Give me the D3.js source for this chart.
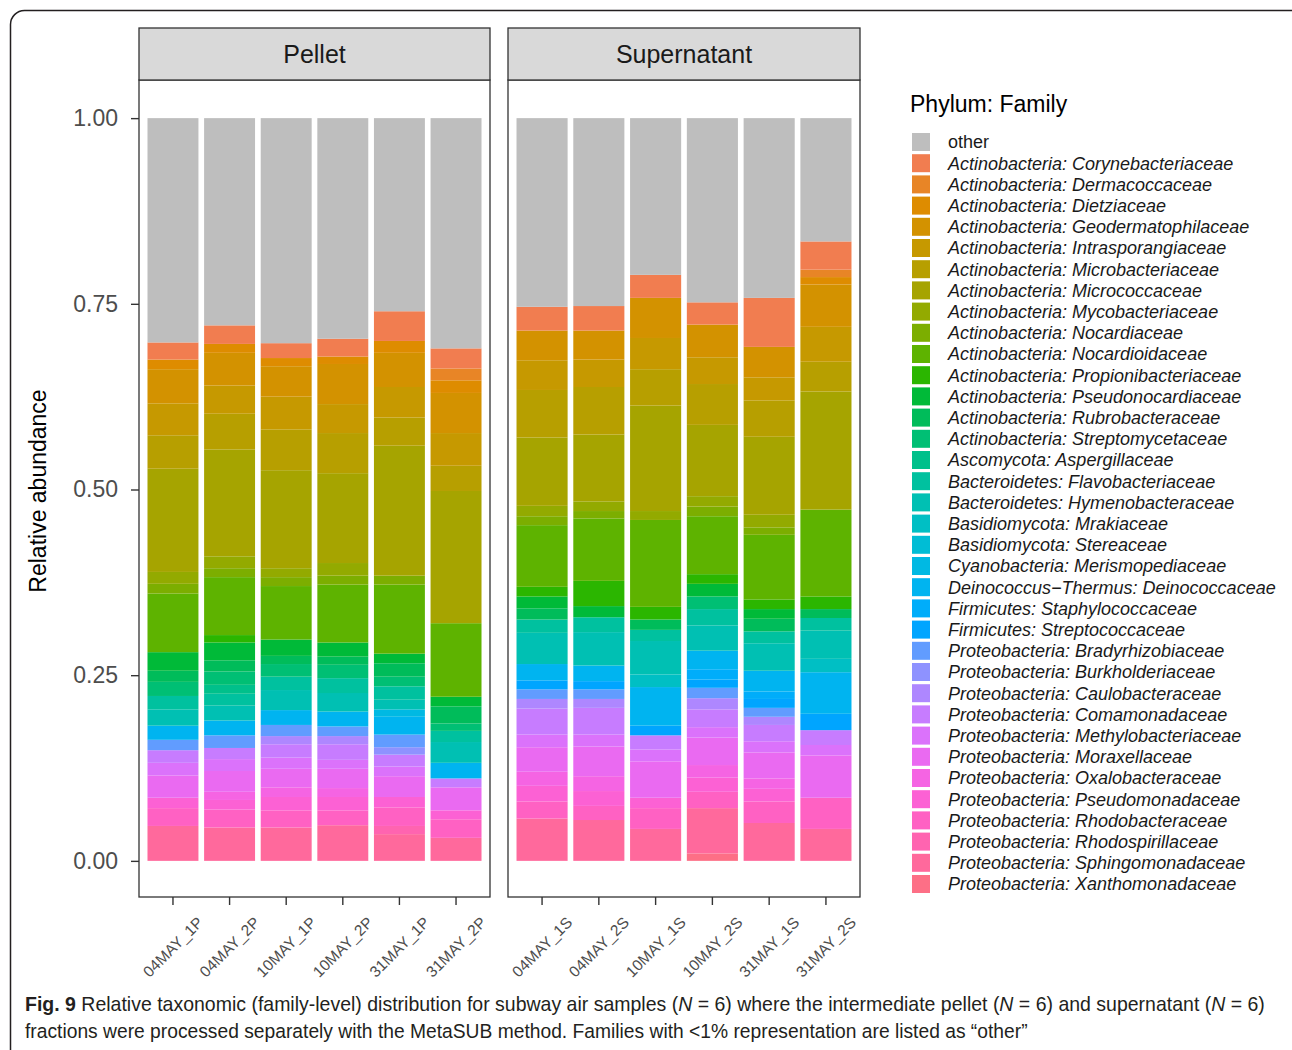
<!DOCTYPE html>
<html>
<head>
<meta charset="utf-8">
<script src="https://cdn.jsdelivr.net/npm/d3@7"></script>
<style>
  body { margin: 0; background: #ffffff; }
  svg { display: block; }
  text { font-family: "Liberation Sans", Arial, Helvetica, sans-serif; }
</style>
</head>
<body>
<svg id="chart" width="1292" height="1050"></svg>
<script>
// Fill levels, top of each stack first ("other" sits on top)
const families = [
  "other",
  "Actinobacteria: Corynebacteriaceae",
  "Actinobacteria: Dermacoccaceae",
  "Actinobacteria: Dietziaceae",
  "Actinobacteria: Geodermatophilaceae",
  "Actinobacteria: Intrasporangiaceae",
  "Actinobacteria: Microbacteriaceae",
  "Actinobacteria: Micrococcaceae",
  "Actinobacteria: Mycobacteriaceae",
  "Actinobacteria: Nocardiaceae",
  "Actinobacteria: Nocardioidaceae",
  "Actinobacteria: Propionibacteriaceae",
  "Actinobacteria: Pseudonocardiaceae",
  "Actinobacteria: Rubrobacteraceae",
  "Actinobacteria: Streptomycetaceae",
  "Ascomycota: Aspergillaceae",
  "Bacteroidetes: Flavobacteriaceae",
  "Bacteroidetes: Hymenobacteraceae",
  "Basidiomycota: Mrakiaceae",
  "Basidiomycota: Stereaceae",
  "Cyanobacteria: Merismopediaceae",
  "Deinococcus\u2212Thermus: Deinococcaceae",
  "Firmicutes: Staphylococcaceae",
  "Firmicutes: Streptococcaceae",
  "Proteobacteria: Bradyrhizobiaceae",
  "Proteobacteria: Burkholderiaceae",
  "Proteobacteria: Caulobacteraceae",
  "Proteobacteria: Comamonadaceae",
  "Proteobacteria: Methylobacteriaceae",
  "Proteobacteria: Moraxellaceae",
  "Proteobacteria: Oxalobacteraceae",
  "Proteobacteria: Pseudomonadaceae",
  "Proteobacteria: Rhodobacteraceae",
  "Proteobacteria: Rhodospirillaceae",
  "Proteobacteria: Sphingomonadaceae",
  "Proteobacteria: Xanthomonadaceae"
];

const pelletSamples = ["04MAY_1P", "04MAY_2P", "10MAY_1P", "10MAY_2P", "31MAY_1P", "31MAY_2P"];
const supernatantSamples = ["04MAY_1S", "04MAY_2S", "10MAY_1S", "10MAY_2S", "31MAY_1S", "31MAY_2S"];
const facetNames = ["Pellet", "Supernatant"];
const yTicks = [0, 0.25, 0.5, 0.75, 1];

// Relative abundance per sample, in the order of `families`
const s04MAY_1P = [.302, .023, 0, .013, .046, .043, .045, .139, .016, .013, .079, 0, .025, .015, .019, 0, .018, .022, 0, 0, 0, .019, 0, 0, .014, 0, 0, .017, .017, .030, 0, .014, .024, 0, .047, 0];
const s04MAY_2P = [.279, .025, 0, .012, .044, .038, .048, .144, .016, .012, .078, .010, .024, .015, .018, .012, .016, .020, 0, 0, 0, .020, 0, 0, .017, 0, 0, .015, .016, .028, .011, .013, .024, 0, .045, 0];
const s10MAY_1P = [.303, .020, 0, .011, .041, .044, .055, .132, .012, .012, .072, 0, .022, .011, .017, 0, .018, .027, 0, 0, 0, .020, 0, 0, .015, 0, .011, .018, .015, .025, .013, .018, .023, 0, .045, 0];
const s10MAY_2P = [.297, .024, 0, .010, .054, .039, .054, .121, .017, .012, .078, 0, .019, .011, .018, 0, .020, .025, 0, 0, 0, .020, 0, 0, .013, 0, .011, .021, .012, .026, .012, .018, .020, 0, .048, 0];
const s31MAY_1P = [.260, .040, 0, .016, .046, .041, .038, .175, 0, .012, .093, 0, .013, .018, .013, 0, .018, .013, 0, 0, .010, .024, 0, 0, .017, .010, 0, .016, .013, .028, 0, .014, .025, .011, .036, 0];
const s31MAY_2P = [.310, .027, .016, .017, .054, .044, .034, .178, 0, 0, .099, 0, .013, .023, .010, 0, .015, .028, 0, 0, 0, .021, 0, 0, 0, 0, 0, .012, 0, .031, 0, .012, .025, 0, .031, 0];

const s04MAY_1S = [.254, .032, 0, 0, .040, .040, .064, .092, .014, .012, .083, .013, .016, .015, 0, 0, .018, .042, 0, 0, 0, .022, 0, .012, .013, 0, .013, .035, .017, .033, .019, .021, .023, 0, .057, 0];
const s04MAY_2S = [.253, .033, 0, 0, .039, .037, .064, .090, .013, .010, .084, .034, .015, 0, 0, 0, .020, .045, 0, 0, 0, .021, 0, .011, .013, 0, .012, .036, .016, .040, .020, .020, .019, 0, .055, 0];
const s10MAY_1S = [.211, .031, 0, 0, .054, .042, .049, .142, .012, 0, .117, .017, 0, .014, 0, 0, .015, .045, .017, 0, 0, .052, 0, .013, 0, 0, 0, .019, .016, .049, 0, .014, .028, 0, .043, 0];
const s10MAY_2S = [.248, .030, 0, 0, .044, .036, .055, .096, .014, .013, .078, .013, .017, 0, .017, 0, .022, .034, 0, 0, 0, .025, .014, .011, .014, 0, .015, .024, .014, .037, .017, .019, .022, 0, .061, .010];
const s31MAY_1S = [.242, .066, 0, 0, .041, .031, .049, .105, .017, .010, .087, .013, .013, .017, 0, 0, .016, .037, 0, 0, 0, .028, .010, .012, .012, 0, .011, .022, .015, .035, .014, .017, .029, 0, .051, 0];
const s31MAY_2S = [.166, .038, .010, .010, .057, .047, .040, .159, 0, 0, .117, .017, 0, .012, 0, 0, .017, .038, .018, 0, 0, .056, 0, .022, 0, 0, 0, .020, .014, .057, 0, 0, .042, 0, .043, 0];

const pelletValues = [s04MAY_1P, s04MAY_2P, s10MAY_1P, s10MAY_2P, s31MAY_1P, s31MAY_2P];
const supernatantValues = [s04MAY_1S, s04MAY_2S, s10MAY_1S, s10MAY_2S, s31MAY_1S, s31MAY_2S];

// HCL (polar CIE-LUV) to sRGB, the same conversion used by R's hcl()
function hclLuv(h, c, l) {
  const WX = 95.047, WY = 100.0, WZ = 108.883;
  const hr = h * Math.PI / 180;
  const U = c * Math.cos(hr), V = c * Math.sin(hr);
  const Y = WY * (l > 7.999592 ? Math.pow((l + 16) / 116, 3) : l / 903.3);
  const t = WX + WY + WZ, x = WX / t, y = WY / t;
  const uN = 2 * x / (6 * y - x + 1.5), vN = 4.5 * y / (6 * y - x + 1.5);
  const u = U / (13 * l) + uN, v = V / (13 * l) + vN;
  const X = 9.0 * Y * u / (4 * v);
  const Z = -X / 3 - 5 * Y + 3 * Y / v;
  const g = q => q > 0.00304 ? 1.055 * Math.pow(q, 1 / 2.4) - 0.055 : 12.92 * q;
  const clamp = q => Math.max(0, Math.min(255, Math.round(255 * g(q))));
  const r = clamp(( 3.240479 * X - 1.537150 * Y - 0.498535 * Z) / WY);
  const gg = clamp((-0.969256 * X + 1.875992 * Y + 0.041556 * Z) / WY);
  const b = clamp(( 0.055648 * X - 0.204043 * Y + 1.057311 * Z) / WY);
  return d3.rgb(r, gg, b).formatHex();
}

// Hue wheel of 36 steps; the first slot is replaced by grey for "other"
const palette = families.map((f, i) => i === 0 ? "#BEBEBE" : hclLuv(15 + 360 * i / 36, 100, 65));
const colour = d3.scaleOrdinal(families, palette);

const svg = d3.select("#chart");
const ink = "#333333";

// Figure frame
svg.append("rect")
  .attr("x", 10.5).attr("y", 10.5)
  .attr("width", 1300).attr("height", 1070)
  .attr("rx", 14).attr("ry", 14)
  .attr("fill", "none").attr("stroke", "#231F20").attr("stroke-width", 1.5);

const panelTop = 80, panelBottom = 897;
const y = d3.scaleLinear([-0.05, 1.05], [panelBottom + 1, panelTop + 1]);

const panels = [
  { name: facetNames[0], x0: 139, x1: 490, samples: pelletSamples, values: pelletValues },
  { name: facetNames[1], x0: 508, x1: 860, samples: supernatantSamples, values: supernatantValues }
];

// stack bottom-up: last family at the bottom, "other" on top
const stackKeys = families.slice().reverse();

panels.forEach((p, pi) => {
  const rows = p.samples.map((s, j) => {
    const r = { sample: s };
    families.forEach((f, k) => { r[f] = p.values[j][k]; });
    return r;
  });
  const series = d3.stack().keys(stackKeys)(rows);
  const x = d3.scaleBand(p.samples, [p.x0, p.x1]).paddingInner(0.1).paddingOuter(0.15);

  const g = svg.append("g").attr("class", "panel");

  g.selectAll("g.layer")
    .data(series)
    .join("g")
      .attr("class", "layer")
      .attr("fill", d => colour(d.key))
    .selectAll("rect")
    .data(d => d.filter(q => q[1] - q[0] > 0))
    .join("rect")
      .attr("x", q => x(q.data.sample))
      .attr("width", x.bandwidth())
      .attr("y", q => y(q[1]))
      .attr("height", q => y(q[0]) - y(q[1]));

  // panel border
  g.append("rect")
    .attr("x", p.x0).attr("y", panelTop)
    .attr("width", p.x1 - p.x0).attr("height", panelBottom - panelTop)
    .attr("fill", "none").attr("stroke", ink).attr("stroke-width", 1.3);

  // facet strip
  g.append("rect")
    .attr("x", p.x0).attr("y", 28)
    .attr("width", p.x1 - p.x0).attr("height", panelTop - 28)
    .attr("fill", "#D9D9D9").attr("stroke", ink).attr("stroke-width", 1.3);
  g.append("text")
    .attr("x", (p.x0 + p.x1) / 2).attr("y", 54)
    .attr("dy", "0.35em")
    .attr("text-anchor", "middle")
    .attr("font-size", 25)
    .attr("fill", "#1A1A1A")
    .text(p.name);

  // x axis
  const xAxis = svg.append("g")
    .attr("transform", `translate(0,${panelBottom})`)
    .call(d3.axisBottom(x).tickSize(8).tickSizeOuter(0));
  xAxis.select(".domain").remove();
  xAxis.selectAll(".tick line").attr("stroke", ink).attr("stroke-width", 1.4);
  xAxis.selectAll(".tick text")
    .attr("x", 0).attr("y", 0).attr("dy", "0.35em")
    .attr("text-anchor", "middle")
    .attr("transform", "translate(0,50) rotate(-45)")
    .attr("font-size", 15.5)
    .attr("font-family", "Liberation Sans, Arial, sans-serif")
    .attr("fill", "#4D4D4D");

  if (pi === 0) {
    const yAxis = svg.append("g")
      .attr("transform", `translate(${p.x0},0)`)
      .call(d3.axisLeft(y).tickValues(yTicks).tickFormat(d3.format(".2f")).tickSize(8).tickPadding(13));
    yAxis.select(".domain").remove();
    yAxis.selectAll(".tick line").attr("stroke", ink).attr("stroke-width", 1.4);
    yAxis.selectAll(".tick text")
      .attr("font-size", 23)
      .attr("font-family", "Liberation Sans, Arial, sans-serif")
      .attr("fill", "#4D4D4D");
  }
});

// y title
svg.append("text")
  .attr("transform", "translate(38,491) rotate(-90)")
  .attr("dy", "0.35em")
  .attr("text-anchor", "middle")
  .attr("font-size", 23)
  .attr("fill", "#000")
  .text("Relative abundance");

// legend
const legend = svg.append("g").attr("class", "legend");
legend.append("text")
  .attr("x", 910).attr("y", 104).attr("dy", "0.35em")
  .attr("font-size", 23).attr("fill", "#000")
  .text("Phylum: Family");
const rowStep = (884 - 142) / (families.length - 1);
const items = legend.selectAll("g.item")
  .data(families)
  .join("g")
    .attr("class", "item")
    .attr("transform", (d, i) => `translate(0,${142 + i * rowStep})`);
items.append("rect")
  .attr("x", 912).attr("y", -9)
  .attr("width", 18).attr("height", 18)
  .attr("fill", d => colour(d));
items.append("text")
  .attr("x", 948).attr("dy", "0.35em")
  .attr("font-size", 18)
  .attr("font-style", d => d === "other" ? "normal" : "italic")
  .attr("fill", "#1A1A1A")
  .text(d => d);

// caption, condensed to fit the frame width
const captionLines = [
  { y: 1011, width: 1240, parts: [
    { t: "Fig. 9", w: "bold" }, { t: " Relative taxonomic (family-level) distribution for subway air samples (" },
    { t: "N", i: true }, { t: " = 6) where the intermediate pellet (" }, { t: "N", i: true },
    { t: " = 6) and supernatant (" }, { t: "N", i: true }, { t: " = 6)" } ] },
  { y: 1038, width: 1003, parts: [
    { t: "fractions were processed separately with the MetaSUB method. Families with <1% representation are listed as \u201Cother\u201D" } ] }
];
captionLines.forEach(line => {
  const t = svg.append("text")
    .attr("font-family", "'Liberation Sans Narrow', 'Liberation Sans', sans-serif")
    .attr("font-size", 20.5)
    .attr("fill", "#231F20");
  line.parts.forEach(part => {
    t.append("tspan")
      .attr("font-weight", part.w || "normal")
      .attr("font-style", part.i ? "italic" : "normal")
      .text(part.t);
  });
  const w = t.node().getComputedTextLength();
  t.attr("transform", `translate(25,${line.y}) scale(${line.width / w},1)`);
});
</script>
</body>
</html>
